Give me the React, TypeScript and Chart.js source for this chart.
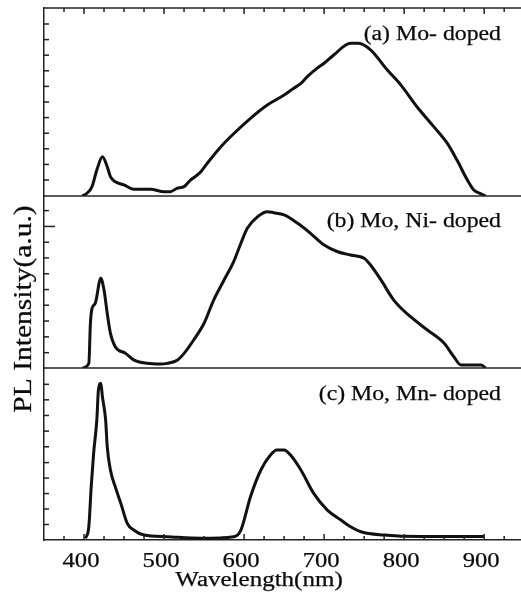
import React, { useEffect, useRef } from 'react';
import { Chart, registerables } from 'chart.js';

Chart.register(...registerables);

// Wavelength (nm) and PL intensity (% of panel height) for each panel
const wavelengthA = [398, 404, 410, 416, 423, 429, 433, 439, 450, 462, 483, 500, 508, 516, 525, 533, 539, 546, 554, 571, 583, 608, 629, 650, 662, 671, 679, 691, 700, 712, 733, 743, 758, 779, 796, 816, 837, 854, 866, 879, 887, 896, 902];
const intensityA = [0, 1.6, 5.0, 13.8, 20.9, 15.6, 10.3, 7.6, 5.9, 3.6, 3.6, 2.3, 2.3, 4.1, 5.0, 8.5, 10.3, 12.9, 17.4, 26.2, 31.5, 41.3, 48.4, 53.7, 57.3, 59.9, 63.5, 67.9, 70.6, 75, 81.2, 81.2, 77.7, 67, 59, 47.5, 36.9, 28, 19.1, 8.5, 3.2, 1.2, 0];

const wavelengthB = [398, 406, 408, 410, 414, 421, 425, 429, 433, 439, 452, 462, 479, 496, 504, 517, 525, 537, 550, 562, 575, 587, 596, 604, 617, 629, 637, 650, 667, 683, 700, 717, 733, 750, 758, 771, 787, 808, 829, 850, 862, 871, 896, 902];
const intensityB = [0, 2.7, 26, 34.7, 37.6, 52.2, 45.3, 31.8, 20.2, 12.4, 8.5, 4.7, 2.7, 2.3, 2.7, 4.7, 8.5, 16.3, 26, 39.5, 51.2, 61.8, 72.5, 81.2, 88, 90.9, 90.3, 89, 84.1, 78.3, 71.5, 67.6, 65.7, 63.8, 59.9, 51.2, 39.5, 29.8, 22.1, 14.4, 6.6, 1.7, 1.7, 0];

const wavelengthC = [402, 406, 409, 412, 416, 418, 421, 423, 427, 429, 433, 439, 446, 454, 462, 475, 504, 546, 587, 596, 608, 621, 633, 641, 650, 658, 671, 687, 704, 721, 733, 746, 775, 821, 900];
const intensityC = [1, 7.7, 31, 50.4, 69.8, 87.2, 91.1, 83.3, 69.8, 54.3, 40.7, 31, 21.3, 9.7, 5.8, 2.9, 1.9, 1, 1.9, 5.8, 25.2, 40.7, 49.4, 52.3, 52.3, 49.4, 40.7, 27.1, 17.4, 11.6, 7.7, 4.8, 2.9, 2, 2];

// Axis ticks
const xTickValues = [375, 400, 425, 450, 475, 500, 525, 550, 575, 600, 625, 650, 675, 700, 725, 750, 775, 800, 825, 850, 875, 900, 925];
const xLabelValues = [400, 500, 600, 700, 800, 900];
const yTicksA = [8.5, 16.8, 25.1, 33.4, 41.7, 50, 58.3, 66.6, 74.9, 83.2, 91.5];
const yTicksB = [8.9, 18.1, 27.3, 36.5, 45.6, 54.8, 64, 73.1, 82.3, 91.5];
const yMajorB = [82.3];
const yTicksC = [9, 18, 27, 36, 45, 54.2, 63.3, 72.4, 81.5, 90.5];

const panelLabels = ['(a) Mo- doped', '(b) Mo, Ni- doped', '(c) Mo, Mn- doped'];
const xTitle = 'Wavelength(nm)';
const yTitle = 'PL Intensity(a.u.)';

const FONT = '"Liberation Serif", "Times New Roman", serif';

const toPoints = (xs: number[], ys: number[]) => xs.map((x, i) => ({ x, y: ys[i] }));

// draw text stretched horizontally (like the scanned original)
const drawText = (
  ctx: CanvasRenderingContext2D,
  text: string,
  x: number,
  y: number,
  size: number,
  sx: number,
  align: CanvasTextAlign,
  rotate = 0,
) => {
  ctx.save();
  ctx.translate(x, y);
  if (rotate) ctx.rotate(rotate);
  ctx.scale(sx, 1);
  ctx.font = `${size}px ${FONT}`;
  ctx.textAlign = align;
  ctx.textBaseline = 'alphabetic';
  ctx.fillStyle = '#0a0a0a';
  ctx.strokeStyle = '#0a0a0a';
  ctx.lineWidth = 0.25;
  ctx.fillText(text, 0, 0);
  ctx.strokeText(text, 0, 0);
  ctx.restore();
};

const overlay = {
  id: 'overlay',
  afterDraw(chart: any) {
    const ctx = chart.ctx as CanvasRenderingContext2D;
    const xs = chart.scales.x;
    const ya = chart.scales.yA;
    const yb = chart.scales.yB;
    const yc = chart.scales.yC;
    const { left, right, top, bottom } = chart.chartArea;
    ctx.save();
    ctx.strokeStyle = '#222';
    ctx.lineWidth = 1.5;
    const line = (x1: number, y1: number, x2: number, y2: number) => {
      ctx.beginPath();
      ctx.moveTo(x1, y1);
      ctx.lineTo(x2, y2);
      ctx.stroke();
    };
    // top border and panel separators
    line(left, ya.top, right, ya.top);
    line(left, ya.bottom, right, ya.bottom);
    line(left, yb.bottom, right, yb.bottom);
    // x ticks (inward, top and bottom)
    xTickValues.forEach((v) => {
      const px = xs.getPixelForValue(v);
      const len = v % 100 === 0 ? 6 : 4;
      line(px, bottom, px, bottom - len);
      line(px, top, px, top + len);
    });
    // y ticks (inward)
    const yt = (scale: any, vals: number[], majors: number[]) => {
      vals.forEach((v) => {
        const py = scale.getPixelForValue(v);
        const len = majors.includes(v) ? 11 : 5;
        line(left, py, left + len, py);
      });
    };
    yt(ya, yTicksA, []);
    yt(yb, yTicksB, yMajorB);
    yt(yc, yTicksC, []);
    ctx.restore();

    // x tick labels
    xLabelValues.forEach((v) => {
      drawText(ctx, String(v), xs.getPixelForValue(v) - 3, 567, 22, 1.12, 'center');
    });
    // x title
    drawText(ctx, xTitle, 259, 586, 20.5, 1.22, 'center');
    // panel labels
    drawText(ctx, panelLabels[0], 501, 40, 20.5, 1.16, 'right');
    drawText(ctx, panelLabels[1], 501, 227, 20.5, 1.16, 'right');
    drawText(ctx, panelLabels[2], 501, 400, 20.5, 1.16, 'right');
    // y title
    drawText(ctx, yTitle, 30.5, 309, 25, 1.18, 'center', -Math.PI / 2);
  },
};

const yAxis = (weight: number) => ({
  type: 'linear' as const,
  position: 'left' as const,
  stack: 'pl',
  stackWeight: weight,
  min: 0,
  max: 100,
  grid: { display: false, drawTicks: false },
  border: { display: true, color: '#222', width: 1.5 },
  ticks: { display: false },
  afterFit: (scale: any) => {
    scale.width = 44;
  },
});

export default function App() {
  const ref = useRef<HTMLCanvasElement | null>(null);
  useEffect(() => {
    if (!ref.current) return;
    const lineStyle = {
      borderColor: '#111',
      borderWidth: 3,
      pointRadius: 0,
      fill: false,
      cubicInterpolationMode: 'monotone' as const,
    };
    const chart = new Chart(ref.current, {
      type: 'line',
      data: {
        datasets: [
          { label: panelLabels[0], data: toPoints(wavelengthA, intensityA), yAxisID: 'yA', ...lineStyle },
          { label: panelLabels[1], data: toPoints(wavelengthB, intensityB), yAxisID: 'yB', ...lineStyle },
          { label: panelLabels[2], data: toPoints(wavelengthC, intensityC), yAxisID: 'yC', ...lineStyle },
        ],
      },
      options: {
        animation: false,
        responsive: false,
        devicePixelRatio: 1,
        layout: { padding: { top: 8, left: 0, right: 0, bottom: 0 } },
        plugins: { legend: { display: false }, tooltip: { enabled: false } },
        scales: {
          x: {
            type: 'linear',
            position: 'bottom',
            min: 350,
            max: 946,
            grid: { display: false, drawTicks: false },
            border: { display: true, color: '#222', width: 1.5 },
            ticks: { display: false },
            afterFit: (scale: any) => {
              scale.height = 58;
            },
          },
          yC: yAxis(172),
          yB: yAxis(172),
          yA: yAxis(188),
        },
      },
      plugins: [overlay],
    });
    return () => chart.destroy();
  }, []);
  return (
    <div style={{ position: 'absolute', left: 0, top: 0, width: 521, height: 598, background: '#fff' }}>
      <canvas ref={ref} width={521} height={598} style={{ display: 'block' }} />
    </div>
  );
}
